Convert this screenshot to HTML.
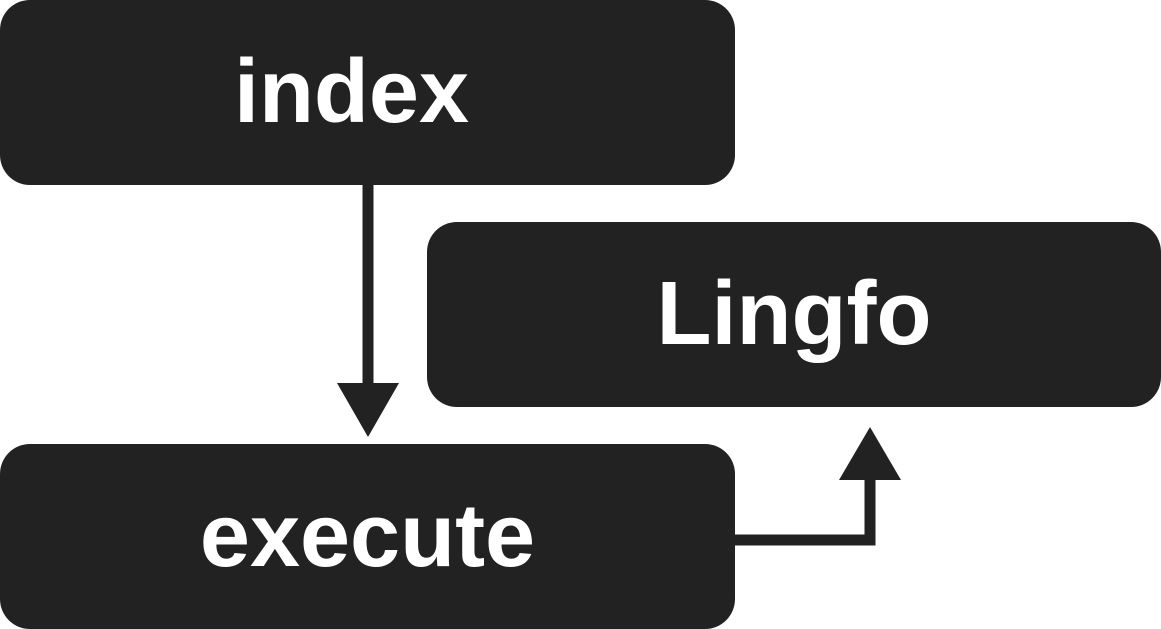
<!DOCTYPE html>
<html><head><meta charset="utf-8"><style>
html,body{margin:0;padding:0;background:#fff;}
body{width:1161px;height:629px;position:relative;overflow:hidden;}
.b{position:absolute;background:#222;border-radius:30px;color:#fff;font-family:"Liberation Sans",sans-serif;font-weight:bold;font-size:90px;display:flex;align-items:center;justify-content:center;box-sizing:border-box;}
svg{position:absolute;left:0;top:0;}
</style></head><body>
<div class="b" style="left:0;top:0;width:735px;height:185px;padding-right:32px;">index</div>
<div class="b" style="left:427px;top:222px;width:734px;height:185px;">Lingfo</div>
<div class="b" style="left:0;top:444px;width:735px;height:185px;">execute</div>
<svg width="1161" height="629">
<line x1="368" y1="185" x2="368" y2="390" stroke="#222" stroke-width="11"/>
<polygon points="337,383 399,383 368,437" fill="#222"/>
<polyline points="735,540 870,540 870,475" fill="none" stroke="#222" stroke-width="11"/>
<polygon points="839,480 901,480 870,427" fill="#222"/>
</svg>
</body></html>
